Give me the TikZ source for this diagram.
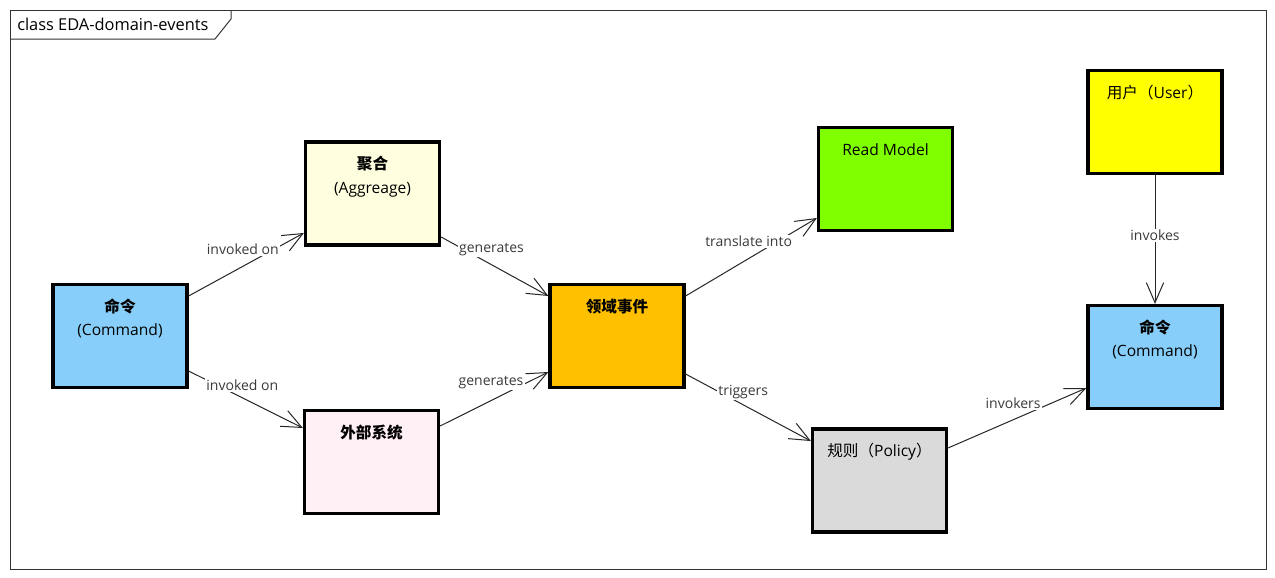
\documentclass[tikz,border=0pt]{standalone}
\usepackage{fontspec}
\setmainfont{Open Sans}
\newfontfamily\cjk{Noto Sans CJK SC}
\usetikzlibrary{arrows.meta}
\definecolor{cmdblue}{HTML}{87CEFA}
\definecolor{aggyellow}{HTML}{FFFFE0}
\definecolor{extpink}{HTML}{FFF0F5}
\definecolor{evtorange}{HTML}{FFC000}
\definecolor{rmgreen}{HTML}{80FF00}
\definecolor{useryellow}{HTML}{FFFF00}
\definecolor{polgray}{HTML}{DADADA}
\definecolor{lblgray}{HTML}{3A3A3A}
\tikzset{
  box/.style={draw=black, line width=2.4pt, minimum width=100.5pt, minimum height=77.25pt, inner sep=0pt},
  boxtxt/.style={anchor=base, yshift=-22pt, inner sep=0pt, align=center, font=\fontsize{11.7}{17.6}\selectfont},
  boxtxtii/.style={boxtxt, yshift=-17.6pt},
  conn/.style={draw=black!85, line width=0.75pt, -{Straight Barb[length=15pt,width=13pt,line width=0.75pt]}},
  lbl/.style={fill=white, inner sep=1pt, text=lblgray, font=\fontsize{10.5}{12}\selectfont},
}
\begin{document}
\begin{tikzpicture}[x=0.75pt,y=-0.75pt]
\useasboundingbox (0,0) rectangle (1275,578);
\fill[white] (0,0) rectangle (1275,578);
% frame
\draw[black!80, line width=0.75pt] (10,10) rectangle (1266,569);
\draw[black!80, line width=0.75pt] (10,39) -- (215,39) -- (231,19) -- (231,10);
\node[anchor=west, inner sep=0pt, font=\fontsize{12.3}{14}\selectfont] (title) at (17,24) {class EDA-domain-events};
% boxes
\node[box, fill=cmdblue] (cmdL) at (120,336) {};
\node[boxtxtii] (cmdLt) at (cmdL.north) {{\cjk\bfseries 命令}\\(Command)};
\node[box, fill=aggyellow] (agg) at (372.5,193.5) {};
\node[boxtxtii] (aggt) at (agg.north) {{\cjk\bfseries 聚合}\\(Aggreage)};
\node[box, fill=extpink] (ext) at (371.5,462) {};
\node[boxtxt] (extt) at (ext.north) {{\cjk\bfseries 外部系统}};
\node[box, fill=evtorange] (dom) at (617,336) {};
\node[boxtxt] (domt) at (dom.north) {{\cjk\bfseries 领域事件}};
\node[box, fill=rmgreen] (rm) at (885.5,179) {};
\node[boxtxt] (rmt) at (rm.north) {Read Model};
\node[box, fill=useryellow] (user) at (1155,122) {};
\node[boxtxt] (usert) at (user.north) {{\cjk 用户（}User{\cjk ）}};
\node[box, fill=cmdblue] (cmdR) at (1155,357) {};
\node[boxtxtii] (cmdRt) at (cmdR.north) {{\cjk\bfseries 命令}\\(Command)};
\node[box, fill=polgray] (pol) at (879.5,480.5) {};
\node[boxtxt] (polt) at (pol.north) {{\cjk 规则（}Policy{\cjk ）}};
% connectors
\draw[conn] ([yshift=30pt]cmdL.east) -- node[lbl, pos=0.47, yshift=12.75pt] (l1) {invoked on} ([yshift=-29.6pt]agg.west);
\draw[conn] ([yshift=-26.25pt]cmdL.east) -- node[lbl, pos=0.47, yshift=9.75pt] (l2) {invoked on} ([yshift=25.5pt]ext.west);
\draw[conn] ([yshift=-32.6pt]agg.east) -- node[lbl, pos=0.47, yshift=11.25pt] (l3) {generates} ([yshift=30pt]dom.west);
\draw[conn] ([yshift=27pt]ext.east) -- node[lbl, pos=0.47, yshift=13.5pt] (l4) {generates} ([yshift=-27pt]dom.west);
\draw[conn] ([yshift=30pt]dom.east) -- node[lbl, pos=0.48, yshift=12.75pt] (l5) {translate into} ([yshift=-29.25pt]rm.west);
\draw[conn] ([yshift=-28.5pt]dom.east) -- node[lbl, pos=0.46, yshift=9.75pt] (l6) {triggers} ([yshift=29.6pt]pol.west);
\draw[conn] ([yshift=24.4pt]pol.east) -- node[lbl, pos=0.47, yshift=12.75pt] (l7) {invokers} ([yshift=-23.25pt]cmdR.west);
\draw[conn] (user.south) -- node[lbl, pos=0.47] (l8) {invokes} (cmdR.north);
\end{tikzpicture}
\end{document}
